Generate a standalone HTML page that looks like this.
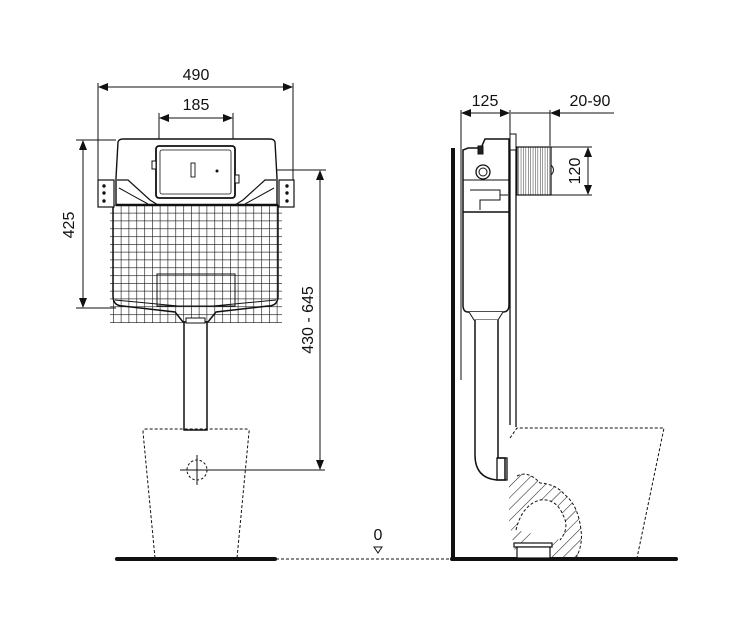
<!DOCTYPE html>
<html><head><meta charset="utf-8"><style>
html,body{margin:0;padding:0;background:#fff;width:753px;height:630px;overflow:hidden}
text{font-family:"Liberation Sans",sans-serif;fill:#111}
</style></head><body>
<svg width="753" height="630" viewBox="0 0 753 630" xmlns="http://www.w3.org/2000/svg">
<defs>
<pattern id="grid" x="113" y="205" width="7.8" height="7.8" patternUnits="userSpaceOnUse">
<path d="M0 0V7.8M0 0H7.8" stroke="#111" stroke-width="1.2" fill="none"/>
</pattern>
<pattern id="thread" x="0" y="0" width="2.4" height="10" patternUnits="userSpaceOnUse">
<path d="M0 0V10" stroke="#333" stroke-width="1"/>
</pattern>
<pattern id="hatch" width="8" height="8" patternUnits="userSpaceOnUse" patternTransform="rotate(45)">
<path d="M0 0V8" stroke="#222" stroke-width="1.1"/>
</pattern>
<marker id="ar" markerWidth="10" markerHeight="8" refX="9" refY="4" orient="auto" markerUnits="userSpaceOnUse">
<path d="M0 0L10 4L0 8z" fill="#111"/>
</marker>
<marker id="al" markerWidth="10" markerHeight="8" refX="1" refY="4" orient="auto" markerUnits="userSpaceOnUse">
<path d="M10 0L0 4L10 8z" fill="#111"/>
</marker>
</defs>
<g fill="none" stroke="#111" stroke-width="1">
<line x1="98" y1="83" x2="98" y2="185"/>
<line x1="293" y1="83" x2="293" y2="185"/>
<line x1="99" y1="87" x2="292" y2="87" marker-start="url(#al)" marker-end="url(#ar)"/>
<line x1="159" y1="113" x2="159" y2="146"/>
<line x1="233" y1="113" x2="233" y2="146"/>
<line x1="160" y1="118" x2="232" y2="118" marker-start="url(#al)" marker-end="url(#ar)"/>
<line x1="76" y1="140" x2="116" y2="140"/>
<line x1="76" y1="308" x2="116" y2="308"/>
<line x1="83" y1="141" x2="83" y2="307" marker-start="url(#al)" marker-end="url(#ar)"/>
<line x1="236" y1="170" x2="326" y2="170"/>
<line x1="180" y1="470" x2="325" y2="470"/>
<line x1="320" y1="171" x2="320" y2="469" marker-start="url(#al)" marker-end="url(#ar)"/>

<rect x="110" y="205" width="172" height="118" fill="url(#grid)" stroke="none"/>
<path d="M113 205V296Q113 306 123 306L175 312L183 322H208L216 312L268 306Q278 306 278 296V205" stroke-width="1.5"/>
<path d="M115 300L178 306M276 300L213 306"/>
<rect x="157" y="274" width="78" height="32" stroke-width="1"/>
<path d="M116 205V178L118 142Q119 139 123 139H270Q274 139 275 142L277 178V205Z" fill="#fff" stroke-width="1.4"/>
<path d="M117 180L128 180L150 200L158 205M276 180L265 180L243 200L235 205" stroke-width="1.2"/>
<path d="M119 188L148 204M274 188L245 204"/>
<line x1="116" y1="205" x2="278" y2="205" stroke-width="2.5"/>
<rect x="98" y="180" width="16" height="27" fill="#fff" stroke-width="1.2"/>
<rect x="279" y="180" width="15" height="27" fill="#fff" stroke-width="1.2"/>
<circle cx="104" cy="186" r="1.2" fill="#111"/><circle cx="104" cy="193" r="1.2" fill="#111"/><circle cx="104" cy="201" r="1.2" fill="#111"/>
<circle cx="287" cy="186" r="1.2" fill="#111"/><circle cx="287" cy="193" r="1.2" fill="#111"/><circle cx="287" cy="201" r="1.2" fill="#111"/>
<rect x="156" y="146" width="79" height="52" rx="3" fill="#fff" stroke-width="1.8"/>
<rect x="160" y="150" width="71" height="44" rx="2" stroke-width="0.8"/>
<rect x="191" y="163" width="4" height="14" stroke-width="0.9"/>
<circle cx="217" cy="171" r="1" fill="#111"/>
<rect x="152" y="161" width="4" height="8" fill="#fff"/>
<rect x="235" y="175" width="4" height="8" fill="#fff"/>
<rect x="184" y="322" width="23" height="108" fill="#fff" stroke-width="1.5"/>
<rect x="186" y="318" width="19" height="5" fill="#fff"/>
<path d="M155 558L143 432Q143 429 146 429H246Q250 429 249 432L237 558" stroke-dasharray="3,2"/>
<circle cx="197" cy="470" r="10" stroke-dasharray="2.5,2"/>
<line x1="197" y1="455" x2="197" y2="485"/>
<line x1="117" y1="559" x2="275" y2="559" stroke-width="4" stroke-linecap="round"/>
<line x1="276" y1="559" x2="455" y2="559" stroke-dasharray="3,2"/>
<path d="M374 547L382 547L378 553Z"/>

<line x1="453" y1="148" x2="453" y2="559" stroke-width="4"/>
<line x1="452" y1="559" x2="676" y2="559" stroke-width="4" stroke-linecap="round"/>
<line x1="461" y1="110" x2="461" y2="380"/>
<line x1="510" y1="110" x2="510" y2="134"/>
<line x1="550" y1="110" x2="550" y2="146"/>
<line x1="462" y1="113" x2="509" y2="113" marker-start="url(#al)" marker-end="url(#ar)"/>
<line x1="511" y1="113" x2="550" y2="113"/>
<line x1="551" y1="113" x2="614" y2="113" marker-start="url(#al)"/>
<line x1="551" y1="147" x2="592" y2="147"/>
<line x1="551" y1="195" x2="592" y2="195"/>
<line x1="588" y1="148" x2="588" y2="194" marker-start="url(#al)" marker-end="url(#ar)"/>
<path d="M463 180V150L468 148H481L485 139H509V305Q509 312 503 312H468Q463 312 463 305Z" fill="#fff" stroke-width="1.5"/>
<line x1="463" y1="212" x2="509" y2="212" stroke-width="1.5"/>
<line x1="463" y1="180" x2="509" y2="180"/>
<circle cx="483" cy="172" r="7" stroke-width="1.3"/>
<circle cx="483" cy="172" r="4"/>
<path d="M470 190H500V200H480V210M500 195H508"/>
<rect x="478" y="146" width="5" height="8" fill="#222"/>
<rect x="510" y="134" width="6" height="16" fill="#fff"/>
<line x1="510" y1="150" x2="510" y2="425" stroke-width="1.3"/>
<line x1="516" y1="150" x2="516" y2="427" stroke-width="1.3"/>
<rect x="517" y="147" width="34" height="48" fill="url(#thread)" stroke-width="1.2"/>
<path d="M551 165Q556 170 551 175" />
<path d="M469 312L474 320H498L503 312" fill="#fff"/>
<path d="M475 320V455Q475 478 497 480H505V458H498V320" fill="#fff" stroke-width="1.5"/>
<rect x="497" y="458" width="10" height="22" stroke-width="1.3"/>
<path d="M510 438L517 428H664L637 558" stroke-dasharray="3,2"/>
<path d="M509 481L517 476Q528 470 540 483Q556 484 565 495Q578 505 581 530Q583 545 576 558H551V540Q548 528 540 530Q530 538 532 558H516L509 520Z" fill="url(#hatch)" stroke="none"/>
<path d="M517 476Q528 470 540 483Q556 484 565 495Q578 505 581 530Q583 545 576 558" stroke-dasharray="3,2"/>
<path d="M516 530Q522 505 540 500Q556 498 563 515Q570 528 560 540" stroke-dasharray="3,2" fill="#fff"/>
<rect x="514" y="543" width="38" height="4" fill="#fff" stroke-width="1.2"/>
<rect x="517" y="547" width="33" height="11" fill="#fff" stroke-width="1.2"/>
</g>
<g font-size="16">
<text x="196" y="80" text-anchor="middle">490</text>
<text x="196" y="110" text-anchor="middle">185</text>
<text x="485" y="106" text-anchor="middle">125</text>
<text x="590" y="106" text-anchor="middle">20-90</text>
<text x="378" y="540" text-anchor="middle">0</text>
<text transform="translate(74,225) rotate(-90)" text-anchor="middle">425</text>
<text transform="translate(313,320) rotate(-90)" text-anchor="middle">430 - 645</text>
<text transform="translate(580,171) rotate(-90)" text-anchor="middle">120</text>
</g>
</svg>
</body></html>
